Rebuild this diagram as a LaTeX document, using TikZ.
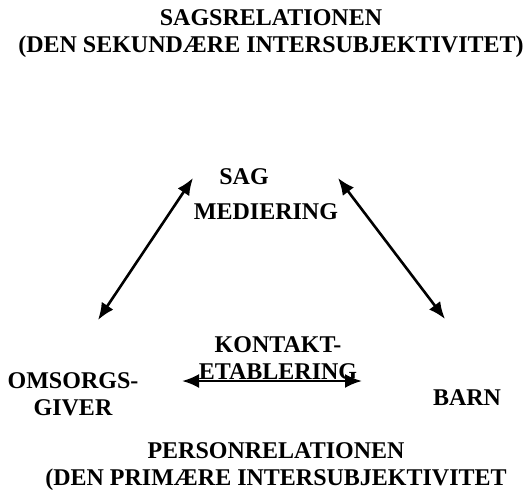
\documentclass[tikz,border=0pt]{standalone}
\usepackage{fontspec}
\setmainfont{Liberation Serif}
\usetikzlibrary{arrows.meta}

\tikzset{
  tekst/.style={font=\fontsize{24}{27}\selectfont\bfseries, align=center, inner sep=0pt},
  pil/.style={{Latex[length=17pt,width=14pt]}-{Latex[length=17pt,width=14pt]}, line width=2.6pt}
}

\begin{document}
\begin{tikzpicture}[x=1pt,y=-1pt]
			\useasboundingbox (0,0) rectangle (525,490);
			\node[tekst] (titel) at (271,33.5) {SAGSRELATIONEN\\(DEN SEKUNDÆRE INTERSUBJEKTIVITET)};
			\node[tekst] (sag) at (244,177) {SAG};
			\node[tekst] (medi) at (266,212) {MEDIERING};
			\node[tekst] (omsorg) at (73,394) {OMSORGS-\\GIVER};
			\node[tekst] (barn) at (467,398) {BARN};
			\node[tekst] (kontakt) at (278,358) {KONTAKT-\\ETABLERING};
			\node[tekst] (person) at (276,467) {PERSONRELATIONEN\\(DEN PRIMÆRE INTERSUBJEKTIVITET};
			% pilene
			\coordinate (sagV) at (193,178);
			\coordinate (sagH) at (338,178);
			\coordinate (omsO) at (98,320);
			\coordinate (barnO) at (445,319);
			\coordinate (kontV) at (182,381);
			\coordinate (kontH) at (362,381);
			\draw[pil] (omsO) -- (sagV);
			\draw[pil] (sagH) -- (barnO);
			\draw[pil] (kontV) -- (kontH);
		\end{tikzpicture}
\end{document}
